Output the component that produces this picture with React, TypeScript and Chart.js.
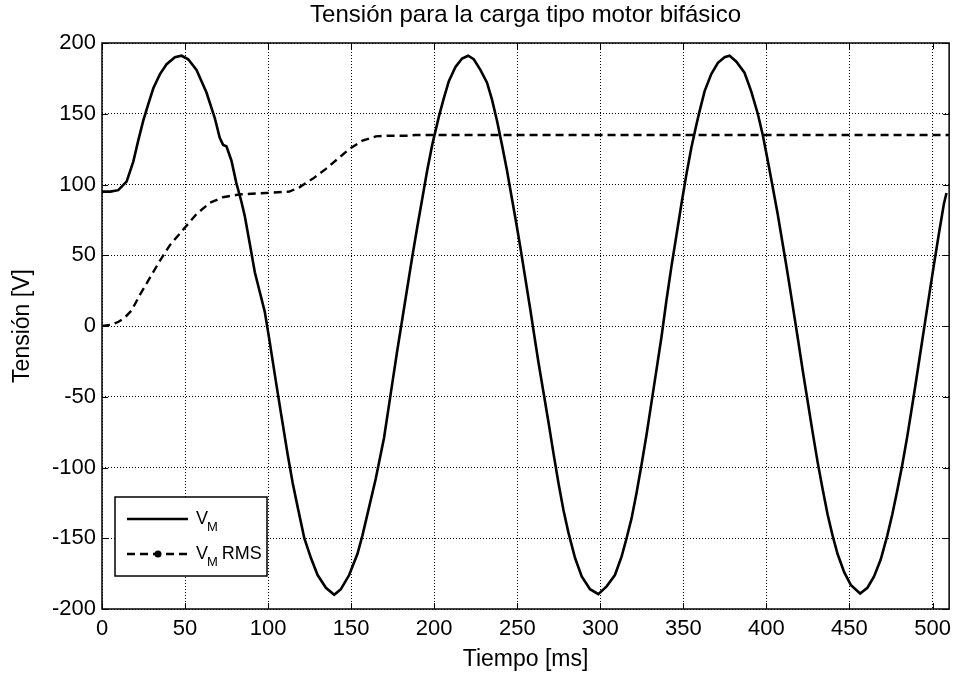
import React, { useEffect, useRef } from "react";
import { Chart, registerables } from "chart.js";

Chart.register(...registerables);

const chartTitle = "Tensión para la carga tipo motor bifásico";
const xAxisTitle = "Tiempo [ms]";
const yAxisTitle = "Tensión [V]";
const xTicks = [0, 50, 100, 150, 200, 250, 300, 350, 400, 450, 500];
const yTicks = [-200, -150, -100, -50, 0, 50, 100, 150, 200];

const vmTime = [
  0, 5, 9.8, 14.8, 18.8, 21.8, 24.8, 27.9, 30.9, 34.9, 38.9, 43.9, 47.9, 51.9, 56.9, 62.9, 67.9,
  70.9, 72.9, 74.9, 77.9, 80.9, 83.9, 85.9, 89, 92, 95, 98, 100.8, 102.8, 104.8, 107.8, 111.8,
  114.8, 117.8, 121.8, 125.8, 129.8, 134.8, 139.8, 143.8, 148.8, 153.8, 156.8, 160.8, 164.8,
  169.8, 173.8, 177.8, 180.8, 183.8, 186.8, 189.8, 192.8, 195.8, 198.8, 202.8, 205.8, 208.8,
  212.8, 216.8, 220.4, 223.8, 227.8, 231.8, 234.8, 237.8, 240.8, 243.8, 246.8, 249.8, 251.8,
  254.8, 257.8, 260.8, 262.8, 265.8, 268.8, 271.8, 274.8, 277.8, 280.8, 284.8, 288.8, 293.8,
  298.8, 303.8, 308.8, 312.8, 315.8, 318.8, 321.8, 324.8, 327.8, 330.8, 333.8, 336.8, 339.8,
  342.8, 345.8, 348.8, 351.8, 354.8, 357.8, 359.8, 362.8, 366.8, 370.8, 374.8, 377.8, 381.8,
  386.8, 390.8, 394.8, 397.8, 400.8, 403.8, 406.8, 409.8, 411.8, 414.8, 416.8, 418.8, 421.8,
  424.8, 427.8, 430.8, 433.8, 436.8, 439.8, 442.8, 446.8, 450.8, 456.4, 460.8, 464.8, 468.8,
  472.8, 475.8, 478.8, 481.8, 484.8, 487.8, 489.8, 492.8, 495.8, 498.8, 500.8, 503.8, 506.8, 508.4,
];
const vmValues = [
  95, 95, 96, 102, 116, 131, 145, 157, 168, 178, 185, 190, 191, 188.5, 181, 165, 147,
  133, 128, 127, 117, 101, 88, 78, 58, 38, 24, 10, -10, -25, -40, -62, -91,
  -111, -128, -150, -164, -176, -185, -190, -186, -176, -161, -148, -128, -108,
  -79, -48, -17, 5, 27, 49, 70, 90, 110, 128, 148, 161, 173,
  183, 189, 191, 188.5, 181, 172, 160, 145, 128, 110, 90, 70, 56,
  34, 12, -11, -26, -47, -68, -90, -111, -130, -146, -164, -177, -186,
  -189.5, -184, -176, -163, -150, -136, -118, -98, -77, -54, -31, -8, 18,
  42, 64, 86, 107, 126, 142, 152, 166, 178, 186, 190, 191, 187,
  179, 166, 150, 135, 117, 98, 79, 58, 44, 22, 7, -8, -31,
  -53, -75, -96, -115, -133, -148, -161, -174, -183, -189, -185, -177, -165,
  -148, -133, -116, -98, -78, -56, -41, -18, 5, 28, 43, 65, 86, 94,
];

const rmsTime = [
  0, 5.8, 10, 13.8, 17.8, 22.8, 28.8, 34.8, 40.8, 48.8, 56.8, 64.8, 72.8, 82.8, 98.8, 112.8,
  118.8, 126.8, 134.8, 142.8, 148.8, 156.8, 164.8, 172, 184.8, 188.8, 510,
];
const rmsValues = [
  0, 1, 3, 6, 11, 22, 34, 46, 57, 68, 79, 87, 91, 93, 94, 95,
  98, 104, 111, 119, 125, 131, 134, 134.5, 134.5, 135, 135,
];

const legendLabels = ["V", "V"];
const legendSubs = ["M", "M"];
const legendSuffix = ["", "RMS"];

const FONT = '"Liberation Sans", Arial, Helvetica, sans-serif';

const decorPlugin = {
  id: "decor",
  afterDraw(chart: any) {
    const ctx = chart.ctx;
    const { left, right, top, bottom } = chart.chartArea;
    const xs = chart.scales.x;
    const ys = chart.scales.y;
    ctx.save();
    // title
    ctx.fillStyle = "#000";
    ctx.font = `24px ${FONT}`;
    ctx.textAlign = "center";
    ctx.textBaseline = "middle";
    ctx.fillText(chartTitle, (left + right) / 2, 15);
    // frame
    ctx.strokeStyle = "#000";
    ctx.lineWidth = 1.5;
    ctx.strokeRect(left, top, right - left, bottom - top);
    // ticks
    ctx.lineWidth = 1;
    ctx.beginPath();
    const tl = 6;
    xTicks.forEach((v) => {
      const px = Math.round(xs.getPixelForValue(v)) + 0.5;
      ctx.moveTo(px, top);
      ctx.lineTo(px, top + tl);
      ctx.moveTo(px, bottom);
      ctx.lineTo(px, bottom - tl);
    });
    yTicks.forEach((v) => {
      const py = Math.round(ys.getPixelForValue(v)) + 0.5;
      ctx.moveTo(left, py);
      ctx.lineTo(left + tl, py);
      ctx.moveTo(right, py);
      ctx.lineTo(right - tl, py);
    });
    ctx.stroke();
    // legend
    const lx = 115, ly = 497, lw = 152, lh = 79;
    ctx.fillStyle = "#fff";
    ctx.fillRect(lx, ly, lw, lh);
    ctx.strokeStyle = "#000";
    ctx.lineWidth = 1.5;
    ctx.strokeRect(lx, ly, lw, lh);
    const rows = [519, 554];
    rows.forEach((ry, i) => {
      ctx.beginPath();
      ctx.strokeStyle = "#000";
      if (i === 0) {
        ctx.lineWidth = 2.5;
        ctx.setLineDash([]);
      } else {
        ctx.lineWidth = 2.5;
        ctx.setLineDash([8, 5]);
      }
      ctx.moveTo(127, ry);
      ctx.lineTo(188, ry);
      ctx.stroke();
      ctx.setLineDash([]);
      if (i === 1) {
        ctx.beginPath();
        ctx.fillStyle = "#000";
        ctx.arc(158, ry, 3.5, 0, Math.PI * 2);
        ctx.fill();
      }
      ctx.fillStyle = "#000";
      ctx.textAlign = "left";
      ctx.textBaseline = "alphabetic";
      ctx.font = `18px ${FONT}`;
      const base = ry + 5;
      ctx.fillText(legendLabels[i], 196, base);
      const vw = ctx.measureText(legendLabels[i]).width;
      ctx.font = `13px ${FONT}`;
      ctx.fillText(legendSubs[i], 196 + vw - 1, base + 7);
      const mw = ctx.measureText(legendSubs[i]).width;
      if (legendSuffix[i]) {
        ctx.font = `18px ${FONT}`;
        ctx.fillText(legendSuffix[i], 196 + vw - 1 + mw + 4, base);
      }
    });
    ctx.restore();
  },
};

export default function App() {
  const canvasRef = useRef<HTMLCanvasElement | null>(null);

  useEffect(() => {
    const canvas = canvasRef.current;
    if (!canvas) return;
    const vmData = vmTime.map((t, i) => ({ x: t, y: vmValues[i] }));
    const rmsData = rmsTime.map((t, i) => ({ x: t, y: rmsValues[i] }));
    const chart = new Chart(canvas, {
      type: "line",
      data: {
        datasets: [
          {
            label: "V_M",
            data: vmData,
            borderColor: "#000",
            borderWidth: 2.6,
            pointRadius: 0,
            tension: 0,
            fill: false,
          },
          {
            label: "V_M RMS",
            data: rmsData,
            borderColor: "#000",
            borderWidth: 2.4,
            borderDash: [8, 5],
            pointRadius: 0,
            tension: 0,
            fill: false,
          },
        ],
      },
      options: {
        responsive: false,
        animation: false,
        devicePixelRatio: 1,
        layout: { padding: { top: 43, right: 6, left: 0, bottom: 0 } },
        plugins: {
          legend: { display: false },
          title: { display: false },
          tooltip: { enabled: false },
        },
        scales: {
          x: {
            type: "linear",
            min: 0,
            max: 510,
            afterFit: (s: any) => {
              s.height = 64;
            },
            ticks: {
              stepSize: 50,
              includeBounds: false,
              color: "#000",
              font: { family: FONT, size: 22 },
              padding: 7,
              maxRotation: 0,
            },
            grid: {
              color: "#000",
              lineWidth: 1,
              drawTicks: false,
            },
            border: { display: false, dash: [1, 2] },
            title: {
              display: true,
              text: xAxisTitle,
              color: "#000",
              font: { family: FONT, size: 23 },
              padding: { top: 0, bottom: 0 },
            },
          },
          y: {
            type: "linear",
            min: -200,
            max: 200,
            afterFit: (s: any) => {
              s.width = 102;
            },
            ticks: {
              stepSize: 50,
              color: "#000",
              font: { family: FONT, size: 22 },
              padding: 6,
            },
            grid: {
              color: "#000",
              lineWidth: 1,
              drawTicks: false,
            },
            border: { display: false, dash: [1, 2] },
            title: {
              display: true,
              text: yAxisTitle,
              color: "#000",
              font: { family: FONT, size: 23 },
              padding: { top: 9, bottom: 0 },
            },
          },
        },
      },
      plugins: [decorPlugin],
    });
    return () => chart.destroy();
  }, []);

  return (
    <div
      style={{
        position: "fixed",
        left: 0,
        top: 0,
        width: 958,
        height: 673,
        background: "#fff",
      }}
    >
      <canvas ref={canvasRef} width={958} height={673} style={{ width: 958, height: 673 }} />
    </div>
  );
}
